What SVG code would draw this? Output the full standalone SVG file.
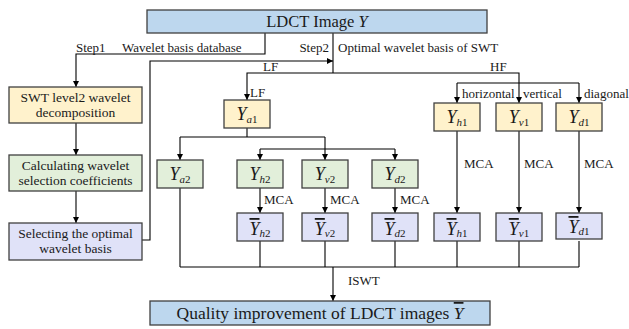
<svg xmlns="http://www.w3.org/2000/svg" width="629" height="329" viewBox="0 0 629 329">
<defs>
<marker id="ah" markerWidth="8" markerHeight="8" refX="6" refY="3" orient="auto" markerUnits="userSpaceOnUse">
<path d="M0,0 L6,3 L0,6 Z" fill="#000"/>
</marker>
<style>
.bx{stroke:#404040;stroke-width:1.3}
.bl{fill:#bdd7ee}
.ye{fill:#fff2cc}
.gr{fill:#e2efda}
.pu{fill:#e0e2f8}
text{font-family:'Liberation Serif','Times New Roman',Times,serif;fill:#1a1a1a}
.lb{font-size:13px}
.bt{font-size:13.5px;text-anchor:middle}
.y{font-size:18px;text-anchor:middle}
.i{font-style:italic}
.s{font-size:11px}
.c{fill:none;stroke:#000;stroke-width:1.1}
.a{marker-end:url(#ah)}
</style>
</defs>
<g id="connectors">
<path class="c a" d="M265,33 V54 H76 V87"/>
<path class="c a" d="M76,123 V155"/>
<path class="c a" d="M76,191 V223"/>
<path class="c a" d="M142,240 H150 V61 H333"/>
<path class="c" d="M333,33 V73"/>
<path class="c a" d="M333,73 H247 V100"/>
<path class="c" d="M333,73 H519 V83"/>
<path class="c" d="M457,83 H579"/>
<path class="c a" d="M457,83 V103"/>
<path class="c a" d="M519,83 V103"/>
<path class="c a" d="M579,83 V103"/>
<path class="c" d="M247,128 V137 M180,137 H325 M260,149 H395"/>
<path class="c a" d="M180,137 V160"/>
<path class="c a" d="M325,137 V160"/>
<path class="c a" d="M260,149 V160"/>
<path class="c a" d="M395,149 V160"/>
<path class="c a" d="M260,188 V213"/>
<path class="c a" d="M325,188 V213"/>
<path class="c a" d="M395,188 V213"/>
<path class="c a" d="M457,131 V213"/>
<path class="c a" d="M519,131 V213"/>
<path class="c a" d="M579,131 V213"/>
<path class="c" d="M180,188 V267 M260,241 V267 M325,241 V267 M395,241 V267 M457,241 V267 M519,241 V267 M579,241 V267 M180,267 H579"/>
<path class="c a" d="M333,267 V301"/>
<g class="lb">
<text x="76" y="52">Step1</text>
<text x="122" y="52">Wavelet basis database</text>
<text x="329" y="52" text-anchor="end">Step2</text>
<text x="338" y="52">Optimal wavelet basis of SWT</text>
<text x="263" y="71">LF</text>
<text x="250" y="97">LF</text>
<text x="490" y="71">HF</text>
<text x="462" y="98">horizontal</text>
<text x="523" y="98">vertical</text>
<text x="584" y="98">diagonal</text>
<text x="264" y="204">MCA</text>
<text x="330" y="204">MCA</text>
<text x="400" y="204">MCA</text>
<text x="464" y="168">MCA</text>
<text x="524" y="168">MCA</text>
<text x="584" y="168">MCA</text>
<text x="348" y="285">ISWT</text>
</g>
</g>
<g id="n-top"><rect class="bx bl" x="147" y="10" width="340" height="23"/><text x="317" y="27" font-size="16.5" text-anchor="middle">LDCT Image <tspan class="i">Y</tspan></text></g>
<g id="n-swt"><rect class="bx ye" x="9" y="87" width="133" height="36"/><text class="bt" x="75.5" y="102">SWT level2 wavelet</text><text class="bt" x="75.5" y="117">decomposition</text></g>
<g id="n-calc"><rect class="bx gr" x="9" y="155" width="133" height="36"/><text class="bt" x="75.5" y="170">Calculating wavelet</text><text class="bt" x="75.5" y="185">selection coefficients</text></g>
<g id="n-sel"><rect class="bx pu" x="9" y="223" width="133" height="37"/><text class="bt" x="75.5" y="238">Selecting the optimal</text><text class="bt" x="75.5" y="253">wavelet basis</text></g>
<g id="n-ya1"><rect class="bx ye" x="224" y="100" width="46" height="28"/><text class="y" x="247" y="120"><tspan class="i">Y</tspan><tspan class="s" dy="3"><tspan class="i">a</tspan>1</tspan></text></g>
<g id="n-ya2"><rect class="bx gr" x="157" y="160" width="46" height="28"/><text class="y" x="180" y="180"><tspan class="i">Y</tspan><tspan class="s" dy="3"><tspan class="i">a</tspan>2</tspan></text></g>
<g id="n-yh2"><rect class="bx gr" x="237" y="160" width="46" height="28"/><text class="y" x="260" y="180"><tspan class="i">Y</tspan><tspan class="s" dy="3"><tspan class="i">h</tspan>2</tspan></text></g>
<g id="n-yv2"><rect class="bx gr" x="302" y="160" width="46" height="28"/><text class="y" x="325" y="180"><tspan class="i">Y</tspan><tspan class="s" dy="3"><tspan class="i">v</tspan>2</tspan></text></g>
<g id="n-yd2"><rect class="bx gr" x="372" y="160" width="46" height="28"/><text class="y" x="395" y="180"><tspan class="i">Y</tspan><tspan class="s" dy="3"><tspan class="i">d</tspan>2</tspan></text></g>
<g id="n-yh1"><rect class="bx ye" x="434" y="103" width="46" height="28"/><text class="y" x="457" y="123"><tspan class="i">Y</tspan><tspan class="s" dy="3"><tspan class="i">h</tspan>1</tspan></text></g>
<g id="n-yv1"><rect class="bx ye" x="496" y="103" width="46" height="28"/><text class="y" x="519" y="123"><tspan class="i">Y</tspan><tspan class="s" dy="3"><tspan class="i">v</tspan>1</tspan></text></g>
<g id="n-yd1"><rect class="bx ye" x="556" y="103" width="46" height="28"/><text class="y" x="579" y="123"><tspan class="i">Y</tspan><tspan class="s" dy="3"><tspan class="i">d</tspan>1</tspan></text></g>
<g id="n-bh2"><rect class="bx pu" x="237" y="213" width="46" height="28"/><text class="y" x="260" y="235"><tspan class="i" text-decoration="overline">Y</tspan><tspan class="s" dy="2"><tspan class="i">h</tspan>2</tspan></text></g>
<g id="n-bv2"><rect class="bx pu" x="302" y="213" width="46" height="28"/><text class="y" x="325" y="235"><tspan class="i" text-decoration="overline">Y</tspan><tspan class="s" dy="2"><tspan class="i">v</tspan>2</tspan></text></g>
<g id="n-bd2"><rect class="bx pu" x="372" y="213" width="46" height="28"/><text class="y" x="395" y="235"><tspan class="i" text-decoration="overline">Y</tspan><tspan class="s" dy="2"><tspan class="i">d</tspan>2</tspan></text></g>
<g id="n-bh1"><rect class="bx pu" x="434" y="213" width="46" height="28"/><text class="y" x="457" y="235"><tspan class="i" text-decoration="overline">Y</tspan><tspan class="s" dy="2"><tspan class="i">h</tspan>1</tspan></text></g>
<g id="n-bv1"><rect class="bx pu" x="496" y="213" width="46" height="28"/><text class="y" x="519" y="235"><tspan class="i" text-decoration="overline">Y</tspan><tspan class="s" dy="2"><tspan class="i">v</tspan>1</tspan></text></g>
<g id="n-bd1"><rect class="bx pu" x="556" y="213" width="46" height="26"/><text class="y" x="579" y="233"><tspan class="i" text-decoration="overline">Y</tspan><tspan class="s" dy="2"><tspan class="i">d</tspan>1</tspan></text></g>
<g id="n-bottom"><rect class="bx bl" x="150" y="301" width="340" height="24"/><text x="320" y="319" font-size="17.5" text-anchor="middle">Quality improvement of LDCT images <tspan class="i" text-decoration="overline">Y</tspan></text></g>
</svg>
